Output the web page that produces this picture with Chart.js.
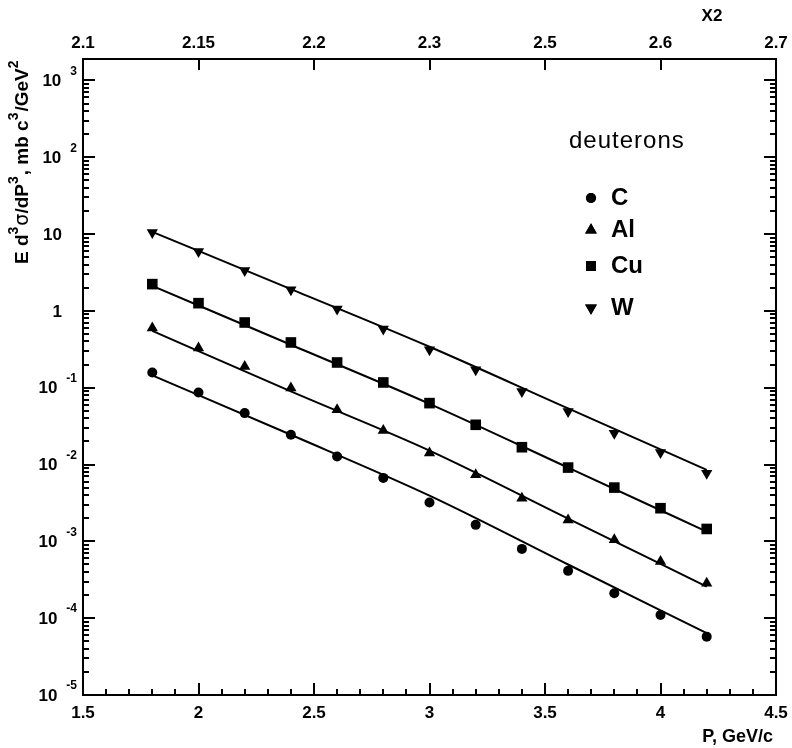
<!DOCTYPE html>
<html><head><meta charset="utf-8">
<script src="https://cdn.jsdelivr.net/npm/chart.js@4"></script>
<style>html,body{margin:0;padding:0;background:#fff}#wrap{width:792px;height:748px}</style>
</head><body><div id="wrap"><canvas id="c" width="792" height="748"></canvas></div>
<script>
// ---- data ----
const momentum = [1.8, 2.0, 2.2, 2.4, 2.6, 2.8, 3.0, 3.2, 3.4, 3.6, 3.8, 4.0, 4.2];
const valuesC  = [0.158, 0.0865, 0.0467, 0.0244, 0.0127, 0.0067, 0.0032, 0.00164, 0.000798, 0.000413, 0.000211, 0.000110, 0.0000575];
const valuesAl = [0.597, 0.328, 0.189, 0.0988, 0.0515, 0.0277, 0.0141, 0.00734, 0.00365, 0.0019, 0.00105, 0.000545, 0.000285];
const valuesCu = [2.23, 1.26, 0.706, 0.388, 0.213, 0.117, 0.063, 0.0329, 0.0168, 0.00913, 0.00501, 0.0027, 0.00145];
const valuesW  = [10.5, 5.94, 3.36, 1.88, 1.055, 0.58, 0.311, 0.171, 0.0891, 0.049, 0.0256, 0.0143, 0.00772];
const fitX  = [1.8, 2.4, 3.0, 3.6, 4.2];
const fitC  = [0.145, 0.0244, 0.00394, 0.0005, 0.0000637];
const fitAl = [0.55, 0.0895, 0.0152, 0.00198, 0.000258];
const fitCu = [2.12, 0.362, 0.0617, 0.00911, 0.00134];
const fitW  = [10.7, 1.92, 0.341, 0.0537, 0.00853];
const seriesNames = ['C', 'Al', 'Cu', 'W'];
const xTickValues = [1.5, 2, 2.5, 3, 3.5, 4, 4.5];
const xTickLabels = ['1.5', '2', '2.5', '3', '3.5', '4', '4.5'];
const x2TickLabels = ['2.1', '2.15', '2.2', '2.3', '2.5', '2.6', '2.7'];
const yExponents = [-5, -4, -3, -2, -1, 0, 1, 2, 3];
const legendTitle = 'deuterons';

const pts = (xs, ys) => xs.map((x, i) => ({x: x, y: ys[i]}));
const markerStyles = [
  {pointStyle: 'circle', pointRadius: 5, pointRotation: 0},
  {pointStyle: 'triangle', pointRadius: 6.5, pointRotation: 0},
  {pointStyle: 'rect', pointRadius: 7.5, pointRotation: 0},
  {pointStyle: 'triangle', pointRadius: 6.5, pointRotation: 180}
];
const legendRadius = [5, 6.8, 7, 6.8];
const markerData = [valuesC, valuesAl, valuesCu, valuesW];
const fitData = [fitC, fitAl, fitCu, fitW];

const datasets = [];
fitData.forEach((f, i) => datasets.push({
  label: seriesNames[i] + ' fit', data: pts(fitX, f), showLine: true,
  borderColor: '#000', borderWidth: 2, pointRadius: 0, cubicInterpolationMode: 'monotone', fill: false
}));
markerData.forEach((m, i) => datasets.push(Object.assign({
  label: seriesNames[i], data: pts(momentum, m), showLine: false,
  backgroundColor: '#000', borderColor: '#000', borderWidth: 0
}, markerStyles[i])));

const FONT = '"Liberation Sans", Arial, sans-serif';

const framePlugin = {
  id: 'frame',
  afterDraw(chart) {
    const ctx = chart.ctx, a = chart.chartArea;
    const xs = chart.scales.x, ys = chart.scales.y;
    ctx.save();
    ctx.strokeStyle = '#000'; ctx.fillStyle = '#000';
    ctx.lineWidth = 2;
    ctx.strokeRect(a.left, a.top, a.right - a.left, a.bottom - a.top);
    ctx.beginPath();
    for (let v = 15; v <= 45; v++) {
      const px = Math.round(xs.getPixelForValue(v / 10));
      const major = v % 5 === 0;
      const len = major ? 12 : 6;
      ctx.moveTo(px, a.bottom); ctx.lineTo(px, a.bottom - len);
      if (major) { ctx.moveTo(px, a.top); ctx.lineTo(px, a.top + 11); }
    }
    for (const e of yExponents) {
      for (let k = 1; k <= 9; k++) {
        const v = k * Math.pow(10, e);
        if (v < ys.min * 0.999 || v > ys.max) continue;
        const py = Math.round(ys.getPixelForValue(v));
        const len = k === 1 ? 12 : 6;
        ctx.moveTo(a.left, py); ctx.lineTo(a.left + len, py);
        ctx.moveTo(a.right, py); ctx.lineTo(a.right - len, py);
      }
    }
    ctx.stroke();

    // x tick labels
    ctx.font = 'bold 17px ' + FONT;
    ctx.textAlign = 'center'; ctx.textBaseline = 'middle';
    xTickValues.forEach((v, i) => {
      const px = xs.getPixelForValue(v);
      ctx.fillText(xTickLabels[i], px, 713);
      ctx.fillText(x2TickLabels[i], px, 43);
    });
    ctx.fillText('X2', 712, 16);
    ctx.textAlign = 'right';
    ctx.font = 'bold 18px ' + FONT;
    ctx.fillText('P, GeV/c', 773, 737);

    // y tick labels with exponents
    ctx.textBaseline = 'middle';
    for (const e of yExponents) {
      const py = ys.getPixelForValue(Math.pow(10, e));
      ctx.font = 'bold 17px ' + FONT;
      ctx.textAlign = 'right';
      if (e === 0) { ctx.fillText('1', 62, py + 1); continue; }
      if (e === 1) { ctx.fillText('10', 62, py + 1); continue; }
      const es = String(e);
      ctx.font = 'bold 12px ' + FONT;
      const ew = ctx.measureText(es).width;
      ctx.fillText(es, 77, py - 9);
      ctx.font = 'bold 17px ' + FONT;
      ctx.fillText('10', 77 - ew - 9, py + 1);
    }

    // y title
    const segs = [['E d','b'],['3','s'],['\u03C3','g'],['/dP','b'],['3','s'],[', mb c','b'],['3','s'],['/GeV','b'],['2','s']];
    const fonts = {b: 'bold 19px ' + FONT, s: 'bold 14px ' + FONT, g: '19px "DejaVu Sans"'};
    ctx.save();
    ctx.translate(28, 264); ctx.rotate(-Math.PI / 2);
    ctx.textAlign = 'left'; ctx.textBaseline = 'alphabetic';
    let x = 0;
    for (const [t, k] of segs) {
      ctx.font = fonts[k];
      ctx.fillText(t, x, k === 's' ? -10 : 0);
      x += ctx.measureText(t).width + (k === 's' ? 1 : 0);
    }
    ctx.restore();

    // legend
    ctx.textAlign = 'left'; ctx.textBaseline = 'middle';
    ctx.font = '24px ' + FONT;
    ctx.letterSpacing = '1px';
    ctx.fillText(legendTitle, 569, 141);
    ctx.letterSpacing = '0px';
    const rows = [198, 230, 266, 308];
    ctx.font = 'bold 24px ' + FONT;
    rows.forEach((ry, i) => {
      const ds = chart.data.datasets[4 + i];
      Chart.helpers.drawPoint(ctx, {pointStyle: ds.pointStyle, radius: legendRadius[i], rotation: ds.pointRotation, borderWidth: 0}, 591, ry);
      ctx.fill();
      ctx.fillText(seriesNames[i], 611, ry);
    });
    ctx.restore();
  }
};

new Chart(document.getElementById('c'), {
  type: 'scatter',
  data: {datasets: datasets},
  options: {
    responsive: false, animation: false, devicePixelRatio: 1,
    layout: {padding: {left: 83, top: 59, right: 16, bottom: 53}},
    plugins: {legend: {display: false}, tooltip: {enabled: false}},
    scales: {
      x: {type: 'linear', min: 1.5, max: 4.5, display: false},
      y: {type: 'logarithmic', min: 1e-5, max: 1900, display: false}
    }
  },
  plugins: [framePlugin]
});
</script></body></html>
